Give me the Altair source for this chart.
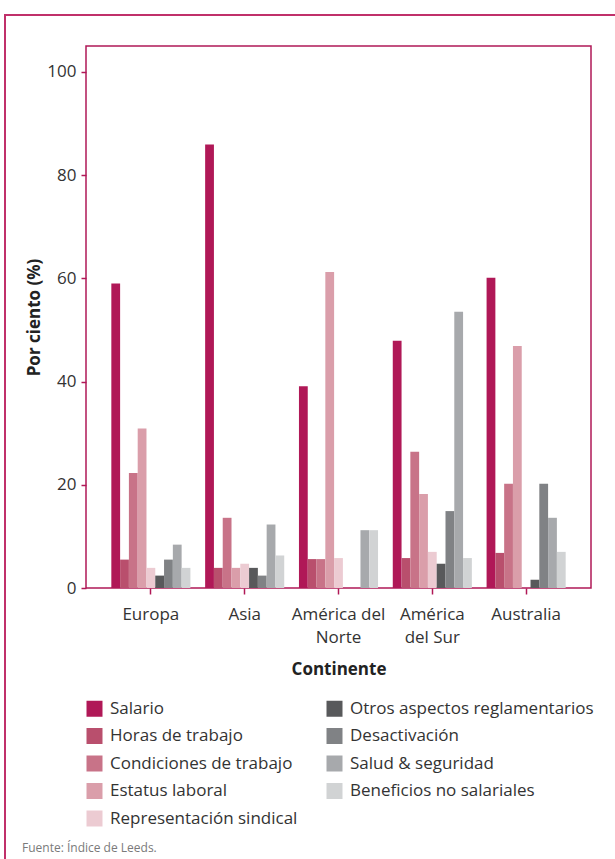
import altair as alt
import pandas as pd

# Continents (x groups) and complaint categories (bars within a group)
continents = ["Europa", "Asia", "América del Norte", "América del Sur", "Australia"]
categories = [
    "Salario",
    "Horas de trabajo",
    "Condiciones de trabajo",
    "Estatus laboral",
    "Representación sindical",
    "Otros aspectos reglamentarios",
    "Desactivación",
    "Salud & seguridad",
    "Beneficios no salariales",
]
colors = [
    "#B01857", "#B94F6D", "#C87388", "#DA9EAA", "#ECCBD2",
    "#58595B", "#808285", "#A7A9AC", "#D1D3D4",
]

# Percentages per category, one value per continent (same order as continents)
salario = [59.0, 85.9, 39.1, 47.9, 60.1]
horas = [5.5, 3.9, 5.6, 5.8, 6.8]
condiciones = [22.3, 13.6, 5.6, 26.4, 20.2]
estatus = [30.9, 3.9, 61.2, 18.2, 46.9]
representacion = [3.9, 4.7, 5.8, 7.0, 0.0]
otros = [2.4, 3.9, 0.0, 4.7, 1.6]
desactivacion = [5.5, 2.4, 0.0, 14.9, 20.2]
salud = [8.4, 12.3, 11.2, 53.5, 13.6]
beneficios = [3.9, 6.3, 11.2, 5.8, 7.0]

series = [salario, horas, condiciones, estatus, representacion,
          otros, desactivacion, salud, beneficios]

rows = []
for cat, vals in zip(categories, series):
    for cont, v in zip(continents, vals):
        rows.append({"Continente": cont, "Categoria": cat, "Valor": v})
df = pd.DataFrame(rows)

FONT = "Open Sans"
CRIMSON = "#B01857"
FRAME = "#C0306A"

W, H = 505, 542
PAD = {"left": 86, "top": 46, "right": 24, "bottom": 271}

bars = alt.Chart(df).mark_bar().encode(
    x=alt.X(
        "Continente:N",
        sort=continents,
        scale=alt.Scale(paddingInner=0.157, paddingOuter=0.27),
        axis=alt.Axis(
            title="Continente",
            labelAngle=0,
            labelExpr=(
                "datum.label == 'América del Norte' ? ['América del', 'Norte'] : "
                "datum.label == 'América del Sur' ? ['América', 'del Sur'] : datum.label"
            ),
            labelLineHeight=23,
            labelPadding=12,
            tickSize=6,
            tickColor=CRIMSON,
            tickWidth=1.5,
            domain=False,
            titlePadding=16,
        ),
    ),
    xOffset=alt.XOffset("Categoria:N", sort=categories,
                        scale=alt.Scale(paddingInner=0, paddingOuter=0)),
    y=alt.Y(
        "Valor:Q",
        scale=alt.Scale(domain=[0, 105], nice=False),
        axis=alt.Axis(
            title="Por ciento (%)",
            values=[0, 20, 40, 60, 80, 100],
            tickSize=5,
            tickColor=CRIMSON,
            tickWidth=1.5,
            labelPadding=5,
            grid=False,
            domain=False,
            titlePadding=3,
        ),
    ),
    color=alt.Color(
        "Categoria:N",
        scale=alt.Scale(domain=categories, range=colors),
        legend=alt.Legend(
            title=None,
            orient="none",
            legendX=0,
            legendY=654,
            columns=2,
            symbolType="square",
            symbolSize=256,
            symbolStrokeWidth=0,
            labelFontSize=17,
            labelColor="#333333",
            labelOffset=7,
            rowPadding=9.5,
            columnPadding=28,
            labelLimit=400,
        ),
    ),
)

# Outer crimson frame around the figure
frame = alt.Chart(pd.DataFrame({"k": [0]})).mark_rect(
    filled=False, stroke=FRAME, strokeWidth=2
).encode(
    x=alt.value(-81), x2=alt.value(620),
    y=alt.value(-31), y2=alt.value(900),
)

source = alt.Chart(pd.DataFrame({"k": [0]})).mark_text(
    text="Fuente: Índice de Leeds.", align="left", baseline="alphabetic",
    fontSize=12, color="#7A7A7A", font=FONT,
).encode(x=alt.value(-64), y=alt.value(806))

chart = alt.layer(frame, bars, source).properties(
    width=W, height=H,
    autosize=alt.AutoSizeParams(type="none"),
    padding=PAD,
    background="white",
).configure_view(
    stroke=CRIMSON, strokeWidth=1.5,
).configure_axis(
    labelFont=FONT, titleFont=FONT,
    labelFontSize=17, titleFontSize=17,
    labelColor="#333333", titleColor="#222222",
    titleFontWeight="bold",
).configure_legend(
    labelFont=FONT,
)

chart.save("out.html", embed_options={"renderer": "svg", "actions": False})
